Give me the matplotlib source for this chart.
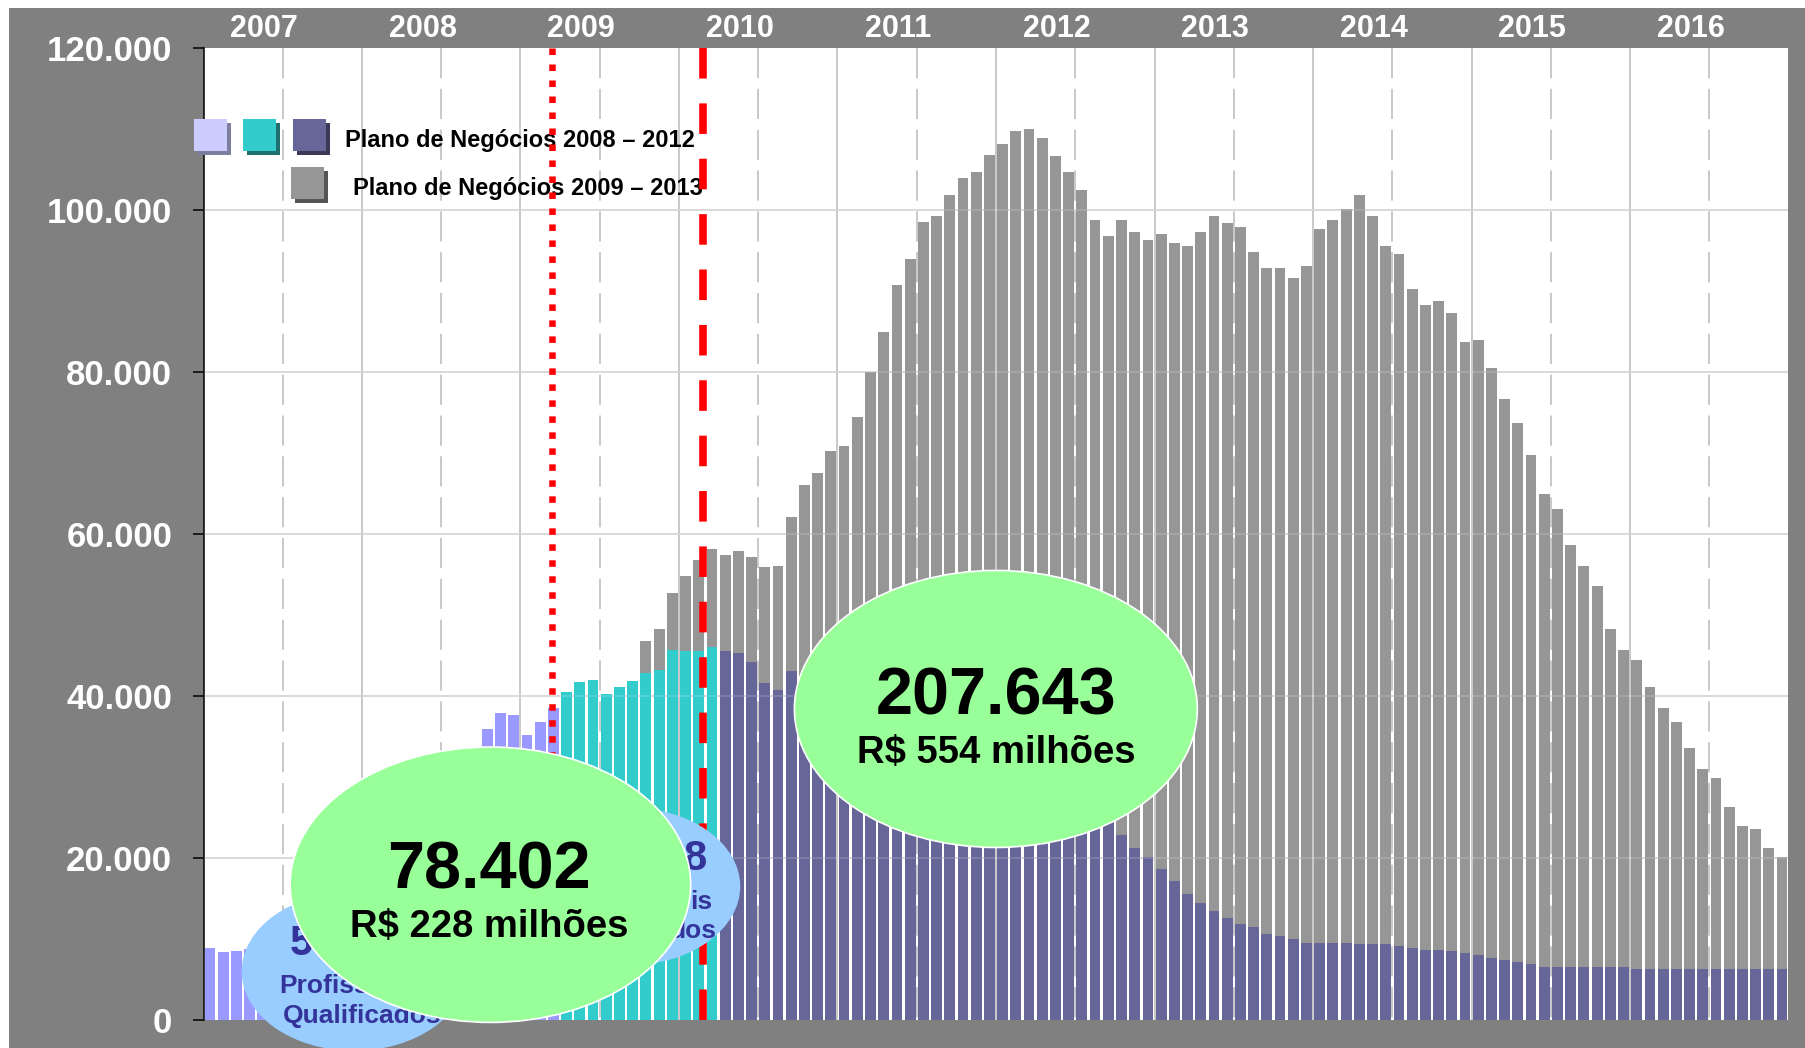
import numpy as np
import matplotlib
matplotlib.use('Agg')
import matplotlib.pyplot as plt
from matplotlib.patches import Ellipse, Rectangle
from matplotlib.transforms import blended_transform_factory

W, H = 1805, 1048

years = ['2007', '2008', '2009', '2010', '2011', '2012', '2013', '2014', '2015', '2016']
y_ticks = [0, 20000, 40000, 60000, 80000, 100000, 120000]
y_tick_labels = ['0', '20.000', '40.000', '60.000', '80.000', '100.000', '120.000']

# monthly bars, Jan 2007 .. Dec 2016 (index 0..119)
# realizado (lilás), first months
lavender_vals = [8950, 8340, 8540, 8750, 9100, 9400, 9800, 10500, 11500, 12800,
                 14000, 15500, 17000, 18500, 20000, 21500, 23000, 24500, 26000, 27500,
                 29000, 35930, 37860, 37660, 35240, 36750, 38520]
teal_vals = [40450, 41700, 41970, 40200, 41070, 41800, 42900, 43200, 45700, 45500,
             45500, 46100]
# Plano de Negócios 2008-2012 (azul escuro)
blue_vals = [45500, 45300, 44170, 41600, 40700, 43140, 41000, 40000, 39000, 38000,
             37300, 36600, 36000, 35300, 34700, 34000, 33400, 32800, 32000, 31400,
             30800, 30200, 29600, 29000, 28400, 27800, 27200, 26600, 25900, 25000,
             22900, 21200, 20100, 18600, 17100, 15600, 14500, 13400, 12550, 11900,
             11500, 10600, 10400, 10000, 9550, 9550, 9550, 9550, 9350, 9350,
             9350, 9100, 8900, 8700, 8700, 8500, 8250, 8050, 7600, 7400,
             7200, 6950, 6550, 6550, 6550, 6550, 6550, 6550, 6550, 6300,
             6300, 6300, 6300, 6300, 6300, 6300, 6300, 6300, 6300, 6300,
             6300]
# Plano de Negócios 2009-2013 (cinza)
gray_vals = [46750, 48300, 52700, 54800, 56800, 58100, 57400, 57850, 57200, 55900,
             56100, 62150, 66000, 67500, 70300, 70900, 74500, 80000, 85000, 90700,
             94000, 98550, 99200, 101850, 104000, 104700, 106850, 108200, 109700, 109950,
             108850, 106700, 104700, 102500, 98750, 96800, 98750, 97250, 96350, 97000,
             95900, 95500, 97250, 99200, 98350, 97850, 94850, 92900, 92900, 91550,
             93100, 97650, 98750, 100100, 101800, 99200, 95500, 94600, 90300, 88300,
             88800, 87300, 83700, 83900, 80500, 76700, 73700, 69700, 65000, 63050,
             58700, 56100, 53550, 48300, 45700, 44400, 41150, 38550, 36850, 33550,
             30950, 29900, 26350, 24000, 23550, 21200, 20150]

n_months = 12 * len(years)


def to_fig(x, y):
    return x / W, 1 - y / H


def legend_square(ax, x, y, face, shadow):
    fx, fy = to_fig(x + 4, y + 4 + 32)
    ax.add_patch(Rectangle((fx, fy), 33 / W, 32 / H, transform=ax.figure.transFigure,
                           facecolor=shadow, edgecolor='none', clip_on=False, zorder=3.7))
    fx, fy = to_fig(x, y + 32)
    ax.add_patch(Rectangle((fx, fy), 33 / W, 32 / H, transform=ax.figure.transFigure,
                           facecolor=face, edgecolor='none', clip_on=False, zorder=3.8))


def main():
    plt.rcParams['font.family'] = ['Liberation Sans', 'DejaVu Sans']
    plt.rcParams['font.weight'] = 'bold'

    fig = plt.figure(figsize=(W / 100, H / 100), dpi=100, facecolor='white')
    fig.patches.append(Rectangle((9 / W, 0), 1, 1 - 8 / H, transform=fig.transFigure,
                                 facecolor='#808080', edgecolor='none', zorder=-10))
    ax = fig.add_axes([204 / W, 28 / H, 1584 / W, 972 / H])
    ax.set_xlim(-0.45, n_months - 0.55)
    ax.set_ylim(0, 120000)

    # grid
    for y in y_ticks[1:-1]:
        ax.axhline(y, color='#c8c8c8', lw=1.1, zorder=0.5)
        ax.axhline(y, color='white', alpha=0.2, lw=1.1, zorder=3.5)
    for k in range(len(years)):
        ax.plot([12 * k + 5.5] * 2, [120000, 0], color='#c8c8c8', lw=1.4,
                ls=(0, (15.5, 5.5)), zorder=0.5)
        if k > 0:
            ax.axvline(12 * k - 0.5, color='#c8c8c8', lw=1.4, zorder=0.5)

    # bars
    t0 = len(lavender_vals)
    b0 = t0 + len(teal_vals)
    g0 = n_months - len(gray_vals)
    w = 0.82
    ax.bar(np.arange(g0, n_months), gray_vals, width=w, color='#969696', zorder=2)
    ax.bar(np.arange(0, t0), lavender_vals, width=w, color='#9999ff', zorder=3)
    ax.bar(np.arange(t0, b0), teal_vals, width=w, color='#33cccc', zorder=3)
    ax.bar(np.arange(b0, b0 + len(blue_vals)), blue_vals, width=w, color='#666699', zorder=3)

    # red markers
    ax.plot([25.92] * 2, [120000, 0], color='#ff0000', lw=4.7, ls=(0, (1.0, 1.45)),
            dash_capstyle='butt', zorder=4, clip_on=False)
    ax.plot([37.35] * 2, [120000, 0], color='#ff0000', lw=5.5, ls=(0, (4.0, 3.25)),
            dash_capstyle='butt', zorder=4, clip_on=False)

    # axes styling
    for s in ['top', 'right', 'bottom']:
        ax.spines[s].set_visible(False)
    ax.spines['left'].set_color('black')
    ax.spines['left'].set_linewidth(1.1)
    ax.set_xticks([])
    ax.set_yticks(y_ticks, y_tick_labels)
    ax.tick_params(axis='y', length=7.9, width=1.1, color='black', pad=15,
                   labelsize=25, labelcolor='white')

    trans = blended_transform_factory(ax.transData, ax.transAxes)
    for k, yr in enumerate(years):
        ax.text(12 * k + 4.1, 1 + 11 / 972, yr, transform=trans, ha='center',
                va='baseline', fontsize=22, color='white', fontweight='bold')

    # legend
    legend_square(ax, 194, 119, '#ccccff', '#7d7d9e')
    legend_square(ax, 243, 119, '#33cccc', '#1f6f6f')
    legend_square(ax, 293, 119, '#666699', '#3a3a58')
    legend_square(ax, 291, 167, '#969696', '#555555')
    ax.text(*to_fig(345, 147), 'Plano de Negócios 2008 – 2012', transform=fig.transFigure,
            fontsize=17, color='black', va='baseline', ha='left', zorder=3.8)
    ax.text(*to_fig(353, 195), 'Plano de Negócios 2009 – 2013', transform=fig.transFigure,
            fontsize=17, color='black', va='baseline', ha='left', zorder=3.8)

    # bubbles
    ax.add_patch(Ellipse((10.9, 6000), 17, 19600, facecolor='#99ccff', edgecolor='none',
                         zorder=5, clip_on=False))
    ax.add_patch(Ellipse((31.64, 16500), 17, 19500, facecolor='#99ccff', edgecolor='none',
                         zorder=5, clip_on=False))
    dark = '#333399'
    ax.text(6.06, 8010, '5', fontsize=30, color=dark, ha='left', va='baseline', zorder=6)
    ax.text(11.51, 3300, 'Profissionais', fontsize=19, color=dark, ha='center',
            va='baseline', zorder=6)
    ax.text(11.51, -350, 'Qualificados', fontsize=19, color=dark, ha='center',
            va='baseline', zorder=6)
    # second bubble: only the part that shows beside the green bubble
    ax.text(37.63, 18500, '8', fontsize=30, color=dark, ha='right', va='baseline', zorder=6)
    ax.text(38.0, 13760, 'is', fontsize=19, color=dark, ha='right', va='baseline', zorder=6)
    ax.text(38.4, 10110, 'dos', fontsize=19, color=dark, ha='right', va='baseline', zorder=6)

    ax.add_patch(Ellipse((21.23, 16700), 30.32, 34000, facecolor='#99ff99', edgecolor='white',
                         lw=1.2, zorder=7, clip_on=False))
    ax.add_patch(Ellipse((59.49, 38400), 30.5, 34200, facecolor='#99ff99', edgecolor='white',
                         lw=1.2, zorder=7, clip_on=False))
    ax.text(21.15, 16200, '78.402', fontsize=48, color='black', ha='center', va='baseline', zorder=8)
    ax.text(21.15, 10250, 'R$ 228 milhões', fontsize=27.5, color='black', ha='center',
            va='baseline', zorder=8)
    ax.text(59.49, 37720, '207.643', fontsize=48, color='black', ha='center', va='baseline', zorder=8)
    ax.text(59.49, 31740, 'R$ 554 milhões', fontsize=27.5, color='black', ha='center',
            va='baseline', zorder=8)

    fig.savefig('out.png', dpi=100, facecolor='white')


if __name__ == '__main__':
    main()
